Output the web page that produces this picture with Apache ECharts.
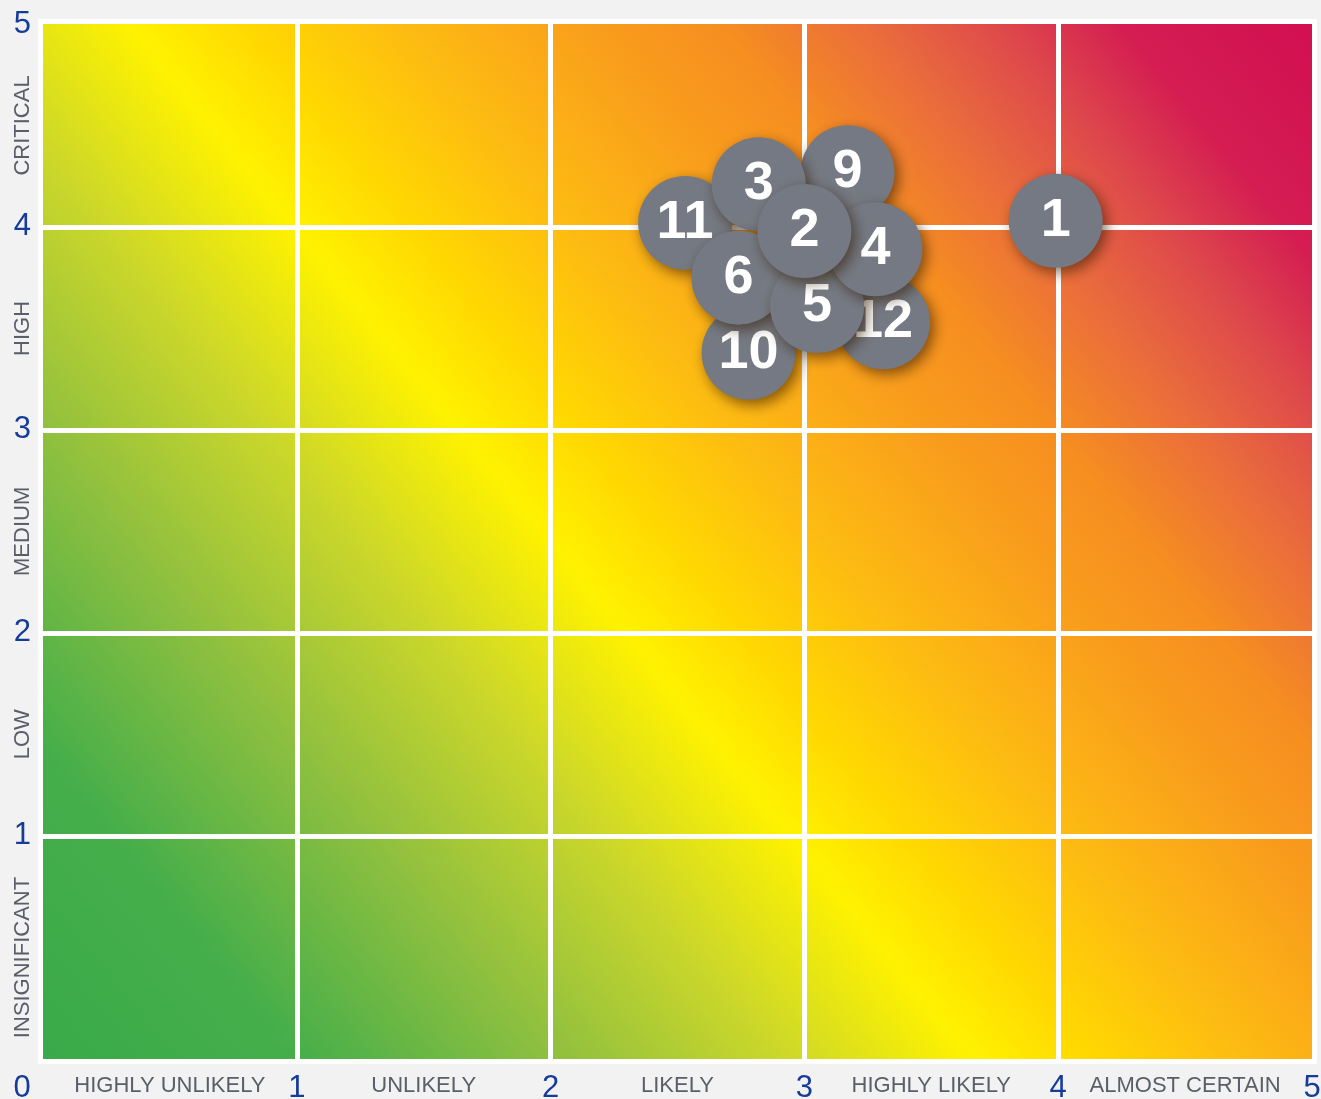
<!DOCTYPE html>
<html><head><meta charset="utf-8">
<script src="https://cdn.jsdelivr.net/npm/echarts@6/dist/echarts.min.js"></script>
<style>
html,body{margin:0;padding:0;background:#f2f2f3;overflow:hidden;}
#frame{position:absolute;left:38px;top:19px;width:1279px;height:1045px;background:#ffffff;}
#chart{position:absolute;left:0;top:0;width:1321px;height:1099px;}
</style></head><body>
<div id="frame"></div>
<div id="chart"></div>
<script>
// ---- data ----
const X_NUM_TICKS = [0, 1, 2, 3, 4, 5];
const Y_NUM_TICKS = [1, 2, 3, 4, 5];
const GRID_LINES = [1, 2, 3, 4];
const X_CATEGORIES = ['HIGHLY UNLIKELY', 'UNLIKELY', 'LIKELY', 'HIGHLY LIKELY', 'ALMOST CERTAIN'];
const Y_CATEGORIES = ['INSIGNIFICANT', 'LOW', 'MEDIUM', 'HIGH', 'CRITICAL'];
// risks in drawing order (later ones drawn on top)
const RISK_IDS        = ['11', '10', '12', '9', '3', '6', '5', '4', '2', '1'];
const RISK_LIKELIHOOD = [2.53, 2.78, 3.31, 3.17, 2.82, 2.74, 3.05, 3.28, 3.00, 3.99];
const RISK_IMPACT     = [4.02, 3.38, 3.53, 4.27, 4.21, 3.75, 3.61, 3.89, 3.98, 4.03];

// ---- styles ----
const BLUE = '#163b98';
const GREY_TEXT = '#5a5e68';
const FONT = '"Liberation Sans", Arial, sans-serif';
const Y_MIN = -0.1, Y_MAX = 5, X_MIN = 0, X_MAX = 5;

const chart = echarts.init(document.getElementById('chart'), null, {renderer: 'canvas'});

const bg = new echarts.graphic.LinearGradient(0, 1, 1, 0, [
  {offset: 0.00, color: '#39aa4a'},
  {offset: 0.12, color: '#45ae4a'},
  {offset: 0.25, color: '#93c13e'},
  {offset: 0.35, color: '#cbd72a'},
  {offset: 0.44, color: '#fff200'},
  {offset: 0.50, color: '#ffd602'},
  {offset: 0.57, color: '#fdbb12'},
  {offset: 0.66, color: '#f99d1c'},
  {offset: 0.72, color: '#f68e20'},
  {offset: 0.79, color: '#ea6c3c'},
  {offset: 0.85, color: '#de4a4b'},
  {offset: 0.91, color: '#d41d52'},
  {offset: 1.00, color: '#d20f52'}
]);

const series = RISK_IDS.map((id, i) => ({
  type: 'scatter',
  name: 'risk ' + id,
  z: 10 + i,
  xAxisIndex: 0,
  yAxisIndex: 0,
  symbol: 'circle',
  symbolSize: 94,
  data: [[RISK_LIKELIHOOD[i], RISK_IMPACT[i], id]],
  itemStyle: {
    color: '#747983',
    shadowBlur: 14,
    shadowColor: 'rgba(50,25,0,0.6)',
    shadowOffsetX: 4,
    shadowOffsetY: 5,
    opacity: 1
  },
  label: {
    show: true,
    position: 'inside',
    formatter: p => p.value[2],
    color: '#ffffff',
    fontSize: 54,
    fontWeight: 'bold',
    fontFamily: FONT
  },
  emphasis: {disabled: true}
}));

chart.setOption({
  animation: false,
  backgroundColor: 'transparent',
  grid: {
    left: 43, right: 9, top: 24, bottom: 40,
    containLabel: false,
    outerBoundsMode: 'none',
    show: true,
    backgroundColor: bg,
    borderWidth: 0
  },
  xAxis: [
    {
      type: 'value', min: X_MIN, max: X_MAX, position: 'bottom',
      axisLine: {show: false},
      axisTick: {show: false, customValues: GRID_LINES},
      splitLine: {show: true, lineStyle: {color: '#ffffff', width: 5}},
      axisLabel: {
        customValues: X_NUM_TICKS,
        margin: 14,
        color: BLUE, fontSize: 31, fontFamily: FONT,
        formatter: v => v === 0 ? '{z|0}' : String(v),
        rich: {z: {color: BLUE, fontSize: 31, fontFamily: FONT, padding: [0, 42, 0, 0]}}
      }
    },
    {
      type: 'value', min: X_MIN, max: X_MAX, position: 'bottom',
      axisLine: {show: false},
      axisTick: {show: false},
      splitLine: {show: false},
      axisLabel: {
        customValues: X_CATEGORIES.map((c, i) => i + 0.5),
        margin: 16,
        color: GREY_TEXT, fontSize: 22, fontFamily: FONT,
        formatter: v => X_CATEGORIES[Math.floor(v)]
      }
    }
  ],
  yAxis: [
    {
      type: 'value', min: Y_MIN, max: Y_MAX, position: 'left',
      axisLine: {show: false},
      axisTick: {show: false, customValues: GRID_LINES},
      splitLine: {show: true, lineStyle: {color: '#ffffff', width: 5}},
      axisLabel: {
        customValues: Y_NUM_TICKS,
        margin: 12,
        color: BLUE, fontSize: 31, fontFamily: FONT,
        formatter: v => String(v)
      }
    },
    {
      type: 'value', min: Y_MIN, max: Y_MAX, position: 'left',
      axisLine: {show: false},
      axisTick: {show: false},
      splitLine: {show: false},
      axisLabel: {
        customValues: Y_CATEGORIES.map((c, i) => i === 0 ? 0.4 : i + 0.5),
        rotate: 90,
        margin: 9,
        color: GREY_TEXT, fontSize: 22, fontFamily: FONT,
        formatter: v => Y_CATEGORIES[Math.floor(v)]
      }
    }
  ],
  series: series
});
</script>
</body></html>
